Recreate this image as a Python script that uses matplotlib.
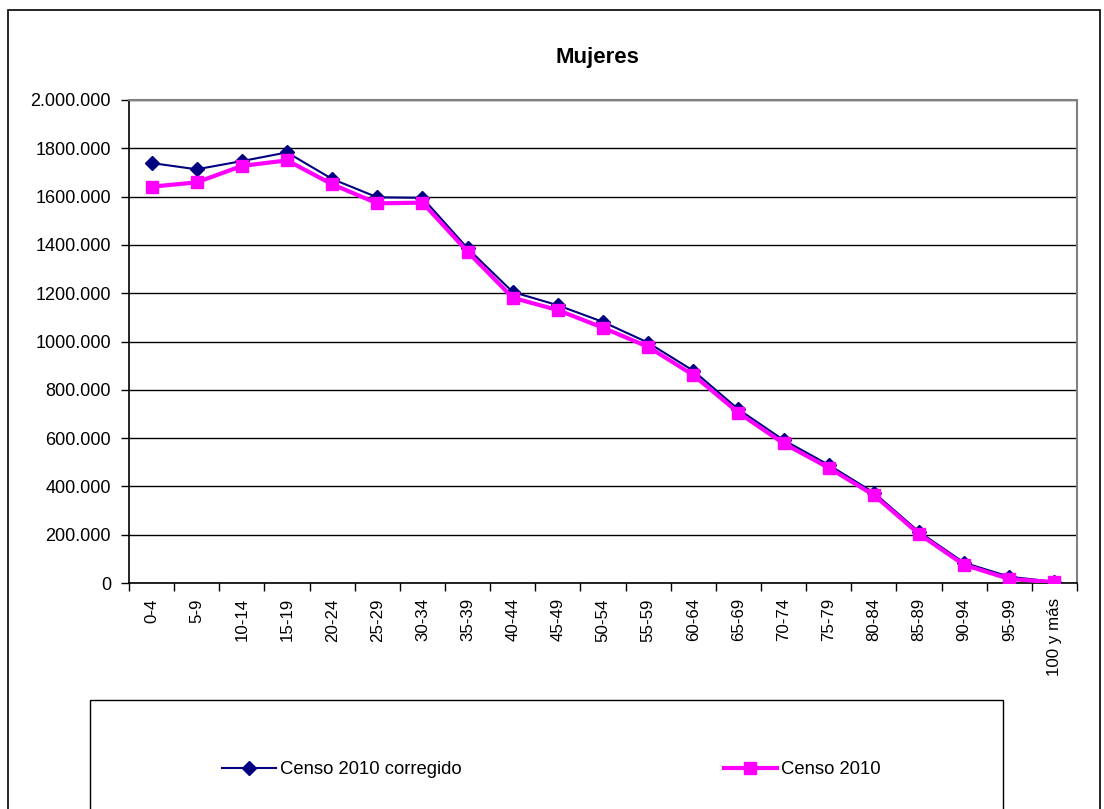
import numpy as np
import matplotlib
matplotlib.use("Agg")
import matplotlib.pyplot as plt
from matplotlib.patches import Rectangle

plt.rcParams['font.family'] = ['Liberation Sans', 'DejaVu Sans']

## Data
grupos = ['0-4', '5-9', '10-14', '15-19', '20-24', '25-29', '30-34', '35-39',
          '40-44', '45-49', '50-54', '55-59', '60-64', '65-69', '70-74', '75-79',
          '80-84', '85-89', '90-94', '95-99', '100 y más']
corregido = [1739000, 1713000, 1747000, 1783000, 1673000, 1597000, 1595000, 1386000,
             1205000, 1150000, 1081000, 995000, 879000, 719000, 592000, 489000,
             374000, 212000, 84000, 26000, 5000]
censo = [1641000, 1659000, 1727000, 1750000, 1651000, 1572000, 1575000, 1372000,
         1181000, 1130000, 1057000, 978000, 861000, 705000, 578000, 477000,
         364000, 203000, 75000, 17000, 3000]
yticks = [0, 200000, 400000, 600000, 800000, 1000000, 1200000, 1400000,
          1600000, 1800000, 2000000]
ytick_labels = ['0', '200.000', '400.000', '600.000', '800.000', '1000.000',
                '1200.000', '1400.000', '1600.000', '1800.000', '2.000.000']

W, H = 1104, 809
fig = plt.figure(figsize=(W/100, H/100), dpi=100)

# outer chart border
fig.patches.append(Rectangle((8/W, -0.05), (1100-8)/W, 1 - 10/H + 0.05,
                             transform=fig.transFigure, fill=False,
                             edgecolor='black', linewidth=1.2))
# legend box
fig.patches.append(Rectangle((90/W, -0.05), (1003-90)/W, 1 - 700/H + 0.05,
                             transform=fig.transFigure, fill=False,
                             edgecolor='black', linewidth=1.0))

ax = fig.add_axes([129/W, 1 - 583/H, (1077-129)/W, (583-100)/H])

x = np.arange(len(grupos))
l1, = ax.plot(x, corregido, color='#000080', linewidth=1.5, marker='D',
              markersize=7.5, label='Censo 2010 corregido', zorder=3)
l2, = ax.plot(x, censo, color='#FF00FF', linewidth=3, marker='s',
              markersize=8, label='Censo 2010', zorder=4)

ax.set_xlim(-0.5, len(grupos) - 0.5)
ax.set_ylim(0, 2000000)
ax.set_yticks(yticks)
ax.set_yticklabels(ytick_labels, fontsize=13)
ax.set_xticks(x)
ax.set_xticklabels(grupos, rotation=90, fontsize=12.2, va='top')
ax.set_xticks(np.arange(-0.5, len(grupos)), minor=True)
ax.tick_params(axis='x', which='major', length=0, pad=11)
ax.tick_params(axis='x', which='minor', length=6, width=1, direction='out')
ax.tick_params(axis='y', length=6, width=1, direction='out', pad=7)

ax.yaxis.grid(True, color='black', linewidth=1)
ax.set_axisbelow(True)
for s in ['top', 'right']:
    ax.spines[s].set_color('#808080')
    ax.spines[s].set_linewidth(1.5)
for s in ['left', 'bottom']:
    ax.spines[s].set_color('black')
    ax.spines[s].set_linewidth(1.2)

fig.text(597/W, 1 - 57/H, 'Mujeres', fontsize=16, fontweight='bold',
         ha='center', va='center')

fig.legend(handles=[l1, l2], loc='center left', bbox_to_anchor=(215/W, 1 - 770/H),
           ncol=2, frameon=False, fontsize=13.3, handlelength=2.9,
           handletextpad=0.2, columnspacing=14.2, borderaxespad=0)

fig.savefig('out.png', dpi=100)
